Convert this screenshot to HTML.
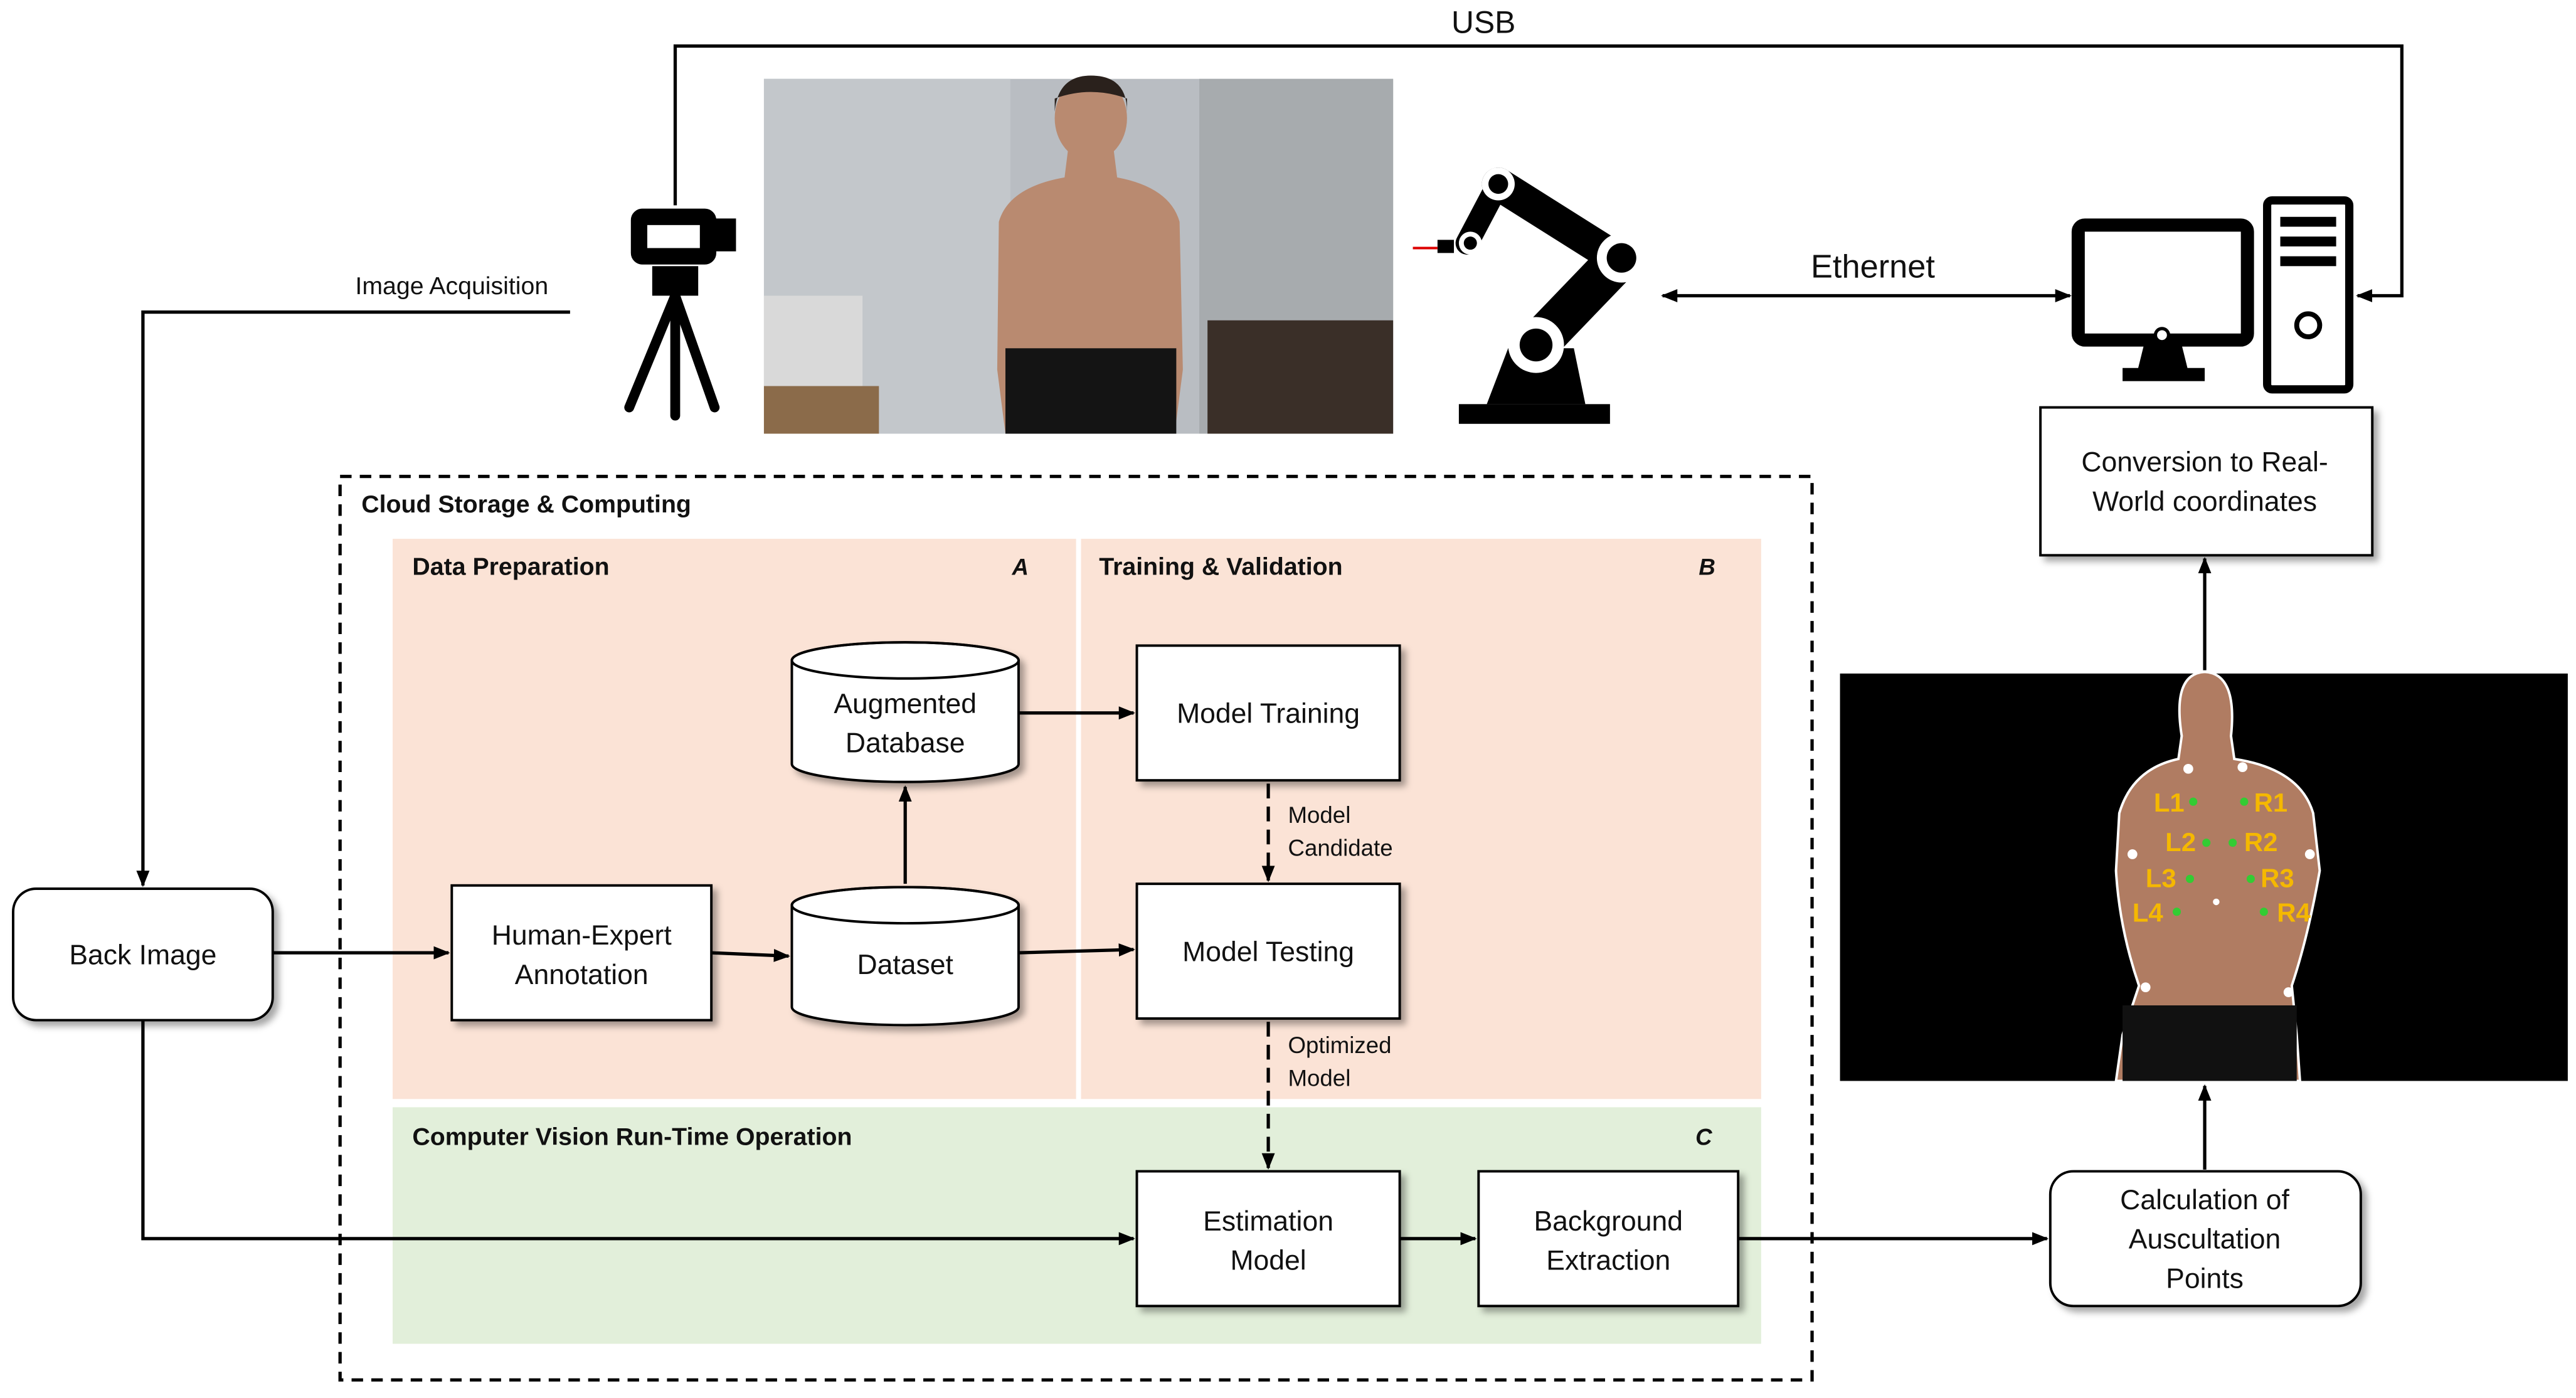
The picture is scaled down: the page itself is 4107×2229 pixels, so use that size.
<!DOCTYPE html>
<html><head><meta charset="utf-8"><style>
html,body{margin:0;padding:0;background:#fff;}
svg{display:block;}
text{font-family:"Liberation Sans","DejaVu Sans",sans-serif;fill:#111;}
text.y{fill:#f5b800;}
</style></head><body>
<svg width="4107" height="2229" viewBox="0 0 1568 851" xmlns="http://www.w3.org/2000/svg">
<defs>
<marker id="ar" markerWidth="10" markerHeight="10" refX="9" refY="5" orient="auto" markerUnits="userSpaceOnUse"><path d="M0,1 L10,5 L0,9 z" fill="#000"/></marker>
<marker id="al" markerWidth="10" markerHeight="10" refX="1" refY="5" orient="auto" markerUnits="userSpaceOnUse"><path d="M10,1 L0,5 L10,9 z" fill="#000"/></marker>
<filter id="sh" x="-10%" y="-10%" width="130%" height="130%"><feDropShadow dx="3" dy="3" stdDeviation="2" flood-color="#000" flood-opacity="0.35"/></filter>
</defs>
<rect width="1568" height="851" fill="#fff"/>

<rect x="239" y="328" width="416" height="341" fill="#fbe3d6"/>
<rect x="658" y="328" width="414" height="341" fill="#fbe3d6"/>
<rect x="239" y="674" width="833" height="144" fill="#e2efda"/>
<rect x="207" y="290" width="896" height="550" fill="none" stroke="#000" stroke-width="2" stroke-dasharray="7,5"/>
<text x="220" y="312" font-size="15" font-weight="bold">Cloud Storage &amp; Computing</text>
<text x="251" y="350" font-size="15" font-weight="bold">Data Preparation</text>
<text x="616" y="350" font-size="14" font-weight="bold" font-style="italic">A</text>
<text x="669" y="350" font-size="15" font-weight="bold">Training &amp; Validation</text>
<text x="1034" y="350" font-size="14" font-weight="bold" font-style="italic">B</text>
<text x="251" y="697" font-size="15" font-weight="bold">Computer Vision Run-Time Operation</text>
<text x="1032" y="697" font-size="14" font-weight="bold" font-style="italic">C</text>

<!-- top photo -->
<rect x="465" y="48" width="383" height="216" fill="#b9bdc2"/>
<rect x="465" y="48" width="150" height="216" fill="#c3c7cb"/>
<rect x="730" y="48" width="118" height="216" fill="#a7abae"/>
<rect x="735" y="195" width="113" height="69" fill="#3a2f28"/>
<rect x="465" y="180" width="60" height="60" fill="#d9d9d9"/>
<rect x="465" y="235" width="70" height="29" fill="#8b6b4a"/>
<path d="M650,92 L678,92 L680,108 Q712,114 718,135 L720,225 L715,264 L612,264 L607,225 L608,135 Q614,114 648,108 Z" fill="#b98a70"/>
<ellipse cx="664" cy="72" rx="22" ry="26" fill="#b98a70"/>
<path d="M642,68 Q644,46 664,46 Q686,46 686,68 L686,60 Q664,52 642,60 Z" fill="#2a211c"/>
<rect x="612" y="212" width="104" height="52" fill="#141414"/>

<!-- camera icon -->
<g stroke="#000" fill="none" stroke-width="6" stroke-linecap="round">
<rect x="387" y="130" width="46" height="28" rx="4" fill="#000"/>
<rect x="433" y="136" width="12" height="14" fill="#000"/>
<rect x="400" y="165" width="22" height="12" fill="#000"/>
<line x1="411" y1="180" x2="383" y2="248"/>
<line x1="411" y1="180" x2="435" y2="248"/>
<line x1="411" y1="180" x2="411" y2="253"/>
</g>
<rect x="394" y="137" width="32" height="14" fill="#fff"/>

<!-- robot -->
<g>
<rect x="888" y="246" width="92" height="12" fill="#000"/>
<path d="M905,246 L918,212 L958,212 L965,246 Z" fill="#000"/>
<line x1="935" y1="210" x2="985" y2="158" stroke="#000" stroke-width="26" stroke-linecap="round"/>
<line x1="985" y1="158" x2="912" y2="112" stroke="#000" stroke-width="20" stroke-linecap="round"/>
<line x1="912" y1="112" x2="893" y2="148" stroke="#000" stroke-width="14" stroke-linecap="round"/>
<circle cx="935" cy="210" r="17" fill="#fff"/><circle cx="935" cy="210" r="10" fill="#000"/>
<circle cx="987" cy="157" r="15" fill="#fff"/><circle cx="987" cy="157" r="9" fill="#000"/>
<circle cx="912" cy="112" r="10" fill="#fff"/><circle cx="912" cy="112" r="6" fill="#000"/>
<circle cx="895" cy="148" r="7" fill="#fff"/><circle cx="895" cy="148" r="4" fill="#000"/>
<rect x="875" y="146" width="10" height="8" fill="#000"/>
<line x1="860" y1="151" x2="875" y2="151" stroke="#d00" stroke-width="1.5"/>
</g>

<!-- computer -->
<rect x="1265" y="137" width="103" height="70" rx="4" fill="#fff" stroke="#000" stroke-width="8"/>
<circle cx="1316" cy="204" r="4" fill="#fff" stroke="#000" stroke-width="2"/>
<path d="M1305,210 L1328,210 L1332,226 L1301,226 Z" fill="#000"/>
<rect x="1292" y="224" width="50" height="8" fill="#000"/>
<rect x="1380" y="122" width="50" height="115" rx="3" fill="#fff" stroke="#000" stroke-width="5"/>
<rect x="1388" y="132" width="34" height="6" fill="#000"/>
<rect x="1388" y="144" width="34" height="6" fill="#000"/>
<rect x="1388" y="156" width="34" height="6" fill="#000"/>
<circle cx="1405" cy="198" r="7" fill="none" stroke="#000" stroke-width="3"/>

<polyline points="411,125 411,28 1462,28 1462,180 1435,180" fill="none" stroke="#000" stroke-width="2" marker-end="url(#ar)"/>
<text x="903" y="20" font-size="19" text-anchor="middle">USB</text>

<line x1="1012" y1="180" x2="1260" y2="180" stroke="#000" stroke-width="2" marker-start="url(#al)" marker-end="url(#ar)"/>
<text x="1140" y="169" font-size="20" text-anchor="middle">Ethernet</text>

<text x="275" y="179" font-size="15" text-anchor="middle">Image Acquisition</text>
<polyline points="347,190 87,190 87,539" fill="none" stroke="#000" stroke-width="2" marker-end="url(#ar)"/>

<g font-size="17" filter="url(#sh)" fill="#fff" stroke="#000" stroke-width="1.5">
<rect x="8" y="541" width="158" height="80" rx="14"/>
<rect x="275" y="539" width="158" height="82"/>
<rect x="692" y="393" width="160" height="82"/>
<rect x="692" y="538" width="160" height="82"/>
<rect x="692" y="713" width="160" height="82"/>
<rect x="900" y="713" width="158" height="82"/>
<rect x="1248" y="713" width="189" height="82" rx="14"/>
<rect x="1242" y="248" width="202" height="90"/>
<path d="M482,402 L482,465 A69,11 0 0 0 620,465 L620,402 A69,11 0 0 0 482,402 Z"/>
<path d="M482,551 L482,613 A69,11 0 0 0 620,613 L620,551 A69,11 0 0 0 482,551 Z"/>
</g>
<ellipse cx="551" cy="402" rx="69" ry="11" fill="none" stroke="#000" stroke-width="1.5"/>
<ellipse cx="551" cy="551" rx="69" ry="11" fill="none" stroke="#000" stroke-width="1.5"/>

<g font-size="17" text-anchor="middle">
<text x="87" y="587">Back Image</text>
<text x="354" y="575">Human-Expert</text><text x="354" y="599">Annotation</text>
<text x="551" y="434">Augmented</text><text x="551" y="458">Database</text>
<text x="551" y="593">Dataset</text>
<text x="772" y="440">Model Training</text>
<text x="772" y="585">Model Testing</text>
<text x="772" y="749">Estimation</text><text x="772" y="773">Model</text>
<text x="979" y="749">Background</text><text x="979" y="773">Extraction</text>
<text x="1342" y="736">Calculation of</text><text x="1342" y="760">Auscultation</text><text x="1342" y="784">Points</text>
<text x="1342" y="287">Conversion to Real-</text><text x="1342" y="311">World coordinates</text>
</g>

<g stroke="#000" stroke-width="2" fill="none">
<line x1="166" y1="580" x2="273" y2="580" marker-end="url(#ar)"/>
<line x1="433" y1="580" x2="480" y2="582" marker-end="url(#ar)"/>
<line x1="551" y1="538" x2="551" y2="479" marker-end="url(#ar)"/>
<line x1="620" y1="434" x2="690" y2="434" marker-end="url(#ar)"/>
<line x1="620" y1="580" x2="690" y2="578" marker-end="url(#ar)"/>
<line x1="772" y1="477" x2="772" y2="536" stroke-dasharray="9,5" marker-end="url(#ar)"/>
<line x1="772" y1="622" x2="772" y2="711" stroke-dasharray="9,5" marker-end="url(#ar)"/>
<polyline points="87,621 87,754 690,754" marker-end="url(#ar)"/>
<line x1="852" y1="754" x2="898" y2="754" marker-end="url(#ar)"/>
<line x1="1058" y1="754" x2="1246" y2="754" marker-end="url(#ar)"/>
<line x1="1342" y1="712" x2="1342" y2="661" marker-end="url(#ar)"/>
<line x1="1342" y1="408" x2="1342" y2="340" marker-end="url(#ar)"/>
</g>
<g font-size="14">
<text x="784" y="501">Model</text><text x="784" y="521">Candidate</text>
<text x="784" y="641">Optimized</text><text x="784" y="661">Model</text>
</g>

<!-- right image -->
<rect x="1120" y="410" width="443" height="248" fill="#000"/>
<path d="M1328,448 Q1322,410 1342,409 Q1362,410 1358,448 L1360,462 Q1400,468 1408,495 L1412,530 Q1405,570 1395,600 L1398,630 L1400,658 L1288,658 L1292,630 L1302,600 Q1290,565 1288,530 L1290,495 Q1298,468 1326,462 Z" fill="#b07c62" stroke="#fff" stroke-width="1.5"/>
<rect x="1292" y="612" width="106" height="46" fill="#111"/>
<g font-size="16" font-weight="bold">
<text class="y" x="1311" y="494">L1</text><text class="y" x="1372" y="494">R1</text>
<text class="y" x="1318" y="518">L2</text><text class="y" x="1366" y="518">R2</text>
<text class="y" x="1306" y="540">L3</text><text class="y" x="1376" y="540">R3</text>
<text class="y" x="1298" y="561">L4</text><text class="y" x="1386" y="561">R4</text>
</g>
<g fill="#3c3">
<circle cx="1335" cy="488" r="2.5"/><circle cx="1366" cy="488" r="2.5"/>
<circle cx="1343" cy="513" r="2.5"/><circle cx="1359" cy="513" r="2.5"/>
<circle cx="1333" cy="535" r="2.5"/><circle cx="1370" cy="535" r="2.5"/>
<circle cx="1325" cy="555" r="2.5"/><circle cx="1378" cy="555" r="2.5"/>
</g>
<g fill="#fff"><circle cx="1332" cy="468" r="3"/><circle cx="1365" cy="467" r="3"/><circle cx="1298" cy="520" r="3"/><circle cx="1406" cy="520" r="3"/><circle cx="1306" cy="601" r="3"/><circle cx="1393" cy="604" r="3"/><circle cx="1349" cy="549" r="2"/></g>
</svg>
</body></html>
